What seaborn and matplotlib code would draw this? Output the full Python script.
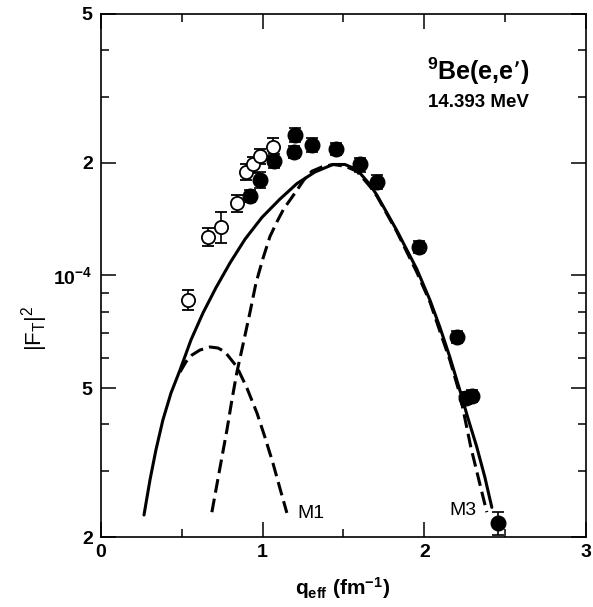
import numpy as np
import pandas as pd
import seaborn as sns
import matplotlib.pyplot as plt
from matplotlib.ticker import FixedLocator, FixedFormatter, NullFormatter

sns.set_theme(style="ticks")
plt.rcParams['font.family'] = ['Liberation Sans', 'DejaVu Sans']
plt.rcParams['mathtext.default'] = 'regular'

# measured form factors (open circles: older data, filled: new data)
q_open = [0.538, 0.662, 0.742, 0.841, 0.897, 0.940, 0.983, 1.064]
f2_open = [8.6e-5, 1.27e-4, 1.35e-4, 1.56e-4, 1.89e-4, 1.98e-4, 2.08e-4, 2.21e-4]
err_open = [5.3e-6, 7.0e-6, 1.25e-5, 8.6e-6, 9.3e-6, 9.8e-6, 1.0e-5, 1.2e-5]

q_full = [0.921, 0.983, 1.070, 1.194, 1.200, 1.305, 1.453, 1.602, 1.707,
          1.967, 2.202, 2.257, 2.294, 2.455]
f2_full = [1.63e-4, 1.80e-4, 2.02e-4, 2.14e-4, 2.38e-4, 2.23e-4, 2.18e-4, 1.98e-4,
           1.78e-4, 1.19e-4, 6.85e-5, 4.71e-5, 4.77e-5, 2.18e-5]
err_full = [6e-6, 8.9e-6, 8.7e-6, 7.9e-6, 1.0e-5, 9.6e-6, 8e-6, 8.5e-6,
            7.7e-6, 4.4e-6, 2.5e-6, 1.7e-6, 1.8e-6, 1.6e-6]

# calculated curves: total, M1 and M3 parts
q_tot = [0.266, 0.303, 0.340, 0.383, 0.433, 0.489, 0.557, 0.631, 0.711, 0.798,
         0.891, 0.996, 1.107, 1.212, 1.323, 1.435, 1.509, 1.583, 1.664, 1.707,
         1.830, 1.954, 2.035, 2.096, 2.158, 2.220, 2.270, 2.325, 2.375, 2.418]
f2_tot = [2.29e-5, 2.84e-5, 3.42e-5, 4.11e-5, 4.85e-5, 5.59e-5, 6.73e-5, 7.94e-5, 9.27e-5, 1.08e-4,
          1.25e-4, 1.43e-4, 1.60e-4, 1.76e-4, 1.89e-4, 1.98e-4, 1.98e-4, 1.92e-4, 1.75e-4, 1.64e-4,
          1.32e-4, 1.04e-4, 8.6e-5, 7.29e-5, 6.06e-5, 4.94e-5, 4.16e-5, 3.48e-5, 2.89e-5, 2.40e-5]

q_m1 = [0.489, 0.526, 0.563, 0.612, 0.674, 0.724, 0.767, 0.841, 0.903, 0.965,
        1.014, 1.064, 1.107, 1.150]
f2_m1 = [5.52e-5, 5.88e-5, 6.13e-5, 6.32e-5, 6.44e-5, 6.40e-5, 6.25e-5, 5.70e-5, 5.0e-5, 4.29e-5,
         3.70e-5, 3.15e-5, 2.70e-5, 2.32e-5]

q_m3 = [0.686, 0.736, 0.779, 0.810, 0.841, 0.878, 0.921, 0.959, 1.002, 1.045,
        1.088, 1.132, 1.169, 1.212, 1.255, 1.305, 1.367, 1.435, 1.509, 1.583,
        1.664, 1.707, 1.830, 1.954, 2.035, 2.096, 2.158, 2.220, 2.251, 2.288,
        2.338, 2.387]
f2_m3 = [2.33e-5, 3.06e-5, 3.86e-5, 4.65e-5, 5.52e-5, 6.52e-5, 7.94e-5, 9.55e-5, 1.11e-4, 1.27e-4,
         1.39e-4, 1.51e-4, 1.59e-4, 1.69e-4, 1.80e-4, 1.90e-4, 1.95e-4, 1.98e-4, 1.96e-4, 1.90e-4,
         1.73e-4, 1.63e-4, 1.31e-4, 1.02e-4, 8.5e-5, 7.11e-5, 5.95e-5, 4.82e-5, 4.16e-5, 3.48e-5,
         2.84e-5, 2.33e-5]

curves = pd.concat([
    pd.DataFrame({'q': q_tot, 'F2': f2_tot, 'curve': 'total'}),
    pd.DataFrame({'q': q_m1, 'F2': f2_m1, 'curve': 'M1'}),
    pd.DataFrame({'q': q_m3, 'F2': f2_m3, 'curve': 'M3'}),
])

fig, ax = plt.subplots(figsize=(5.93, 6.07), dpi=100)
fig.subplots_adjust(left=0.1703, right=0.988, bottom=0.1153, top=0.977)

sns.lineplot(data=curves, x='q', y='F2', hue='curve', style='curve',
             palette={'total': 'black', 'M1': 'black', 'M3': 'black'},
             dashes={'total': '', 'M1': (4.5, 2), 'M3': (4.5, 2)},
             sort=False, estimator=None, lw=2.2, legend=False, ax=ax)

ax.errorbar(q_open, f2_open, yerr=err_open, fmt='o', color='black', mfc='white',
            mec='black', mew=1.3, ms=9.5, elinewidth=1.2, capsize=4, capthick=1.2, zorder=3)
ax.errorbar(q_full, f2_full, yerr=err_full, fmt='o', color='black', mfc='black',
            ms=10.5, elinewidth=1.2, capsize=4, capthick=1.2, zorder=4)

ax.set_yscale('log')
ax.set_xlim(0, 3)
ax.set_ylim(2e-5, 5e-4)

ax.xaxis.set_major_locator(FixedLocator([0, 1, 2, 3]))
ax.xaxis.set_minor_locator(FixedLocator([0.5, 1.5, 2.5]))
ax.yaxis.set_major_locator(FixedLocator([2e-5, 5e-5, 1e-4, 2e-4, 5e-4]))
ax.yaxis.set_major_formatter(FixedFormatter(['2', '5', r'$10^{-4}$', '2', '5']))
ax.yaxis.set_minor_locator(FixedLocator([3e-5, 4e-5, 6e-5, 7e-5, 8e-5, 9e-5, 3e-4, 4e-4]))
ax.yaxis.set_minor_formatter(NullFormatter())

ax.tick_params(which='both', direction='in', top=True, right=True, color='black',
               labelsize=14, labelcolor='black')
ax.tick_params(which='major', length=11, width=1.1)
ax.tick_params(which='minor', length=6, width=1.1)
ax.tick_params(axis='x', pad=5)
ax.tick_params(axis='y', pad=6)
for lab in ax.get_xticklabels() + ax.get_yticklabels():
    lab.set_fontweight('bold')
for s in ax.spines.values():
    s.set_color('black')
    s.set_linewidth(1.2)

ax.set_xlabel(r'q$_{eff}$ (fm$^{-1}$)', fontsize=15, fontweight='bold', color='black')
ax.set_ylabel(r'|F$_T$|$^2$', fontsize=16, color='black')
ax.xaxis.set_label_coords(0.499, -0.072)
ax.yaxis.set_label_coords(-0.105, 0.40)

ax.text(0.672, 0.874, r'$^{9}$Be(e,e’)', transform=ax.transAxes, fontsize=18,
        fontweight='bold', ha='left', va='baseline', color='black')
ax.text(0.674, 0.822, '14.393 MeV', transform=ax.transAxes, fontsize=13.5,
        fontweight='bold', ha='left', va='baseline', color='black')
ax.text(1.212, 2.25e-5, 'M1', fontsize=14, ha='left', va='baseline', color='black')
ax.text(2.158, 2.29e-5, 'M3', fontsize=14, ha='left', va='baseline', color='black')

fig.savefig('out.png', dpi=100)
